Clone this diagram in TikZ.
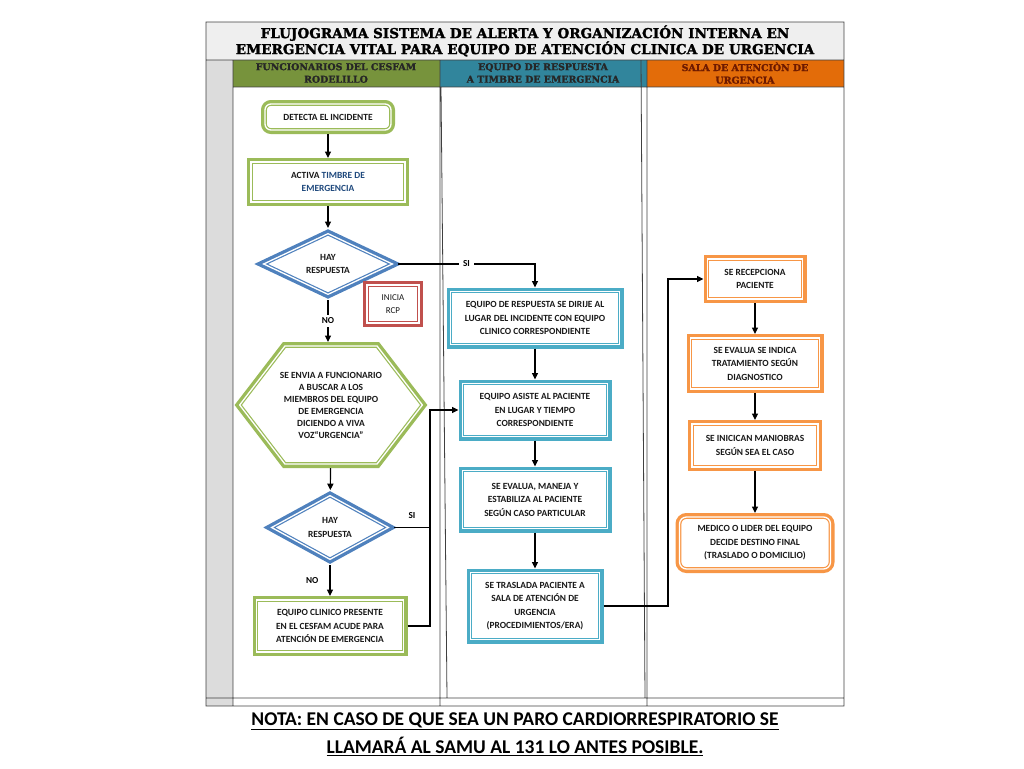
\documentclass[tikz,border=0pt]{standalone}
\usepackage{fontspec}
\setmainfont{Carlito}
\newfontfamily\slabfont[BoldFeatures={FakeBold=1.6}]{DejaVu Serif}
\usetikzlibrary{arrows.meta,calc,positioning,shapes.geometric,shapes.symbols}
\definecolor{LeafGreen}{HTML}{9BBB59}
\definecolor{SteelBlue}{HTML}{4F81BD}
\definecolor{BrickRed}{HTML}{C0504D}
\definecolor{CyanBox}{HTML}{4BACC6}
\definecolor{Tangerine}{HTML}{F79646}
\definecolor{HeadGreen}{HTML}{77933C}
\definecolor{HeadBlue}{HTML}{31859C}
\definecolor{HeadOrange}{HTML}{E36C09}
\definecolor{StripGrey}{HTML}{DCDCDC}
\definecolor{TitleGrey}{HTML}{EFEFEF}
\definecolor{BellBlue}{HTML}{1F497D}
\definecolor{HeadRed}{HTML}{6E1A00}
\begin{document}
\begin{tikzpicture}[x=1pt,y=-1pt,
    frame/.style={fill=white,draw=#1,line width=1.2pt,double=white,double distance=1.3pt,
                  preaction={draw=#1,line width=8pt},outer sep=4pt,align=center,
                  text=black!90,font=\bfseries\fontsize{9.4}{13.5}\selectfont},
    stepbox/.style={frame=#1,rectangle,inner sep=1pt},
    ask/.style={frame=SteelBlue,diamond,inner sep=0pt,font=\bfseries\fontsize{9.4}{13.5}\selectfont},
    lbl/.style={font=\bfseries\fontsize{9.2}{10}\selectfont,inner sep=1pt},
    head/.style={font=\slabfont\bfseries\fontsize{9.4}{12.5}\selectfont,align=center},
    arr/.style={-{Triangle[length=6.5pt,width=6pt]},line width=1.2pt}]
  \useasboundingbox (0,0) rectangle (1024,768);
  % table
  \fill[TitleGrey] (206,22) rectangle (844,60);
  \fill[StripGrey] (206,60) rectangle (233,706);
  \fill[HeadGreen] (233,60) rectangle (440,87);
  \fill[HeadBlue] (440,60) rectangle (647,87);
  \fill[HeadOrange] (647,60) rectangle (844,87);
  \draw[line width=0.8pt,black!75] (206,22) rectangle (844,706)
    (206,60) -- (844,60) (233,87) -- (844,87) (206,698) -- (844,698)
    (233,60) -- (233,706) (440,60) -- (440,706) (647,60) -- (647,706)
    (441,87) -- (447,698) (641,60) -- (645,698);
  \node[font=\slabfont\bfseries\fontsize{13.6}{16}\selectfont,align=center] (title) at (525,41)
    {FLUJOGRAMA SISTEMA DE ALERTA Y ORGANIZACIÓN INTERNA EN\\
     EMERGENCIA VITAL PARA EQUIPO DE ATENCIÓN CLINICA DE URGENCIA};
  \node[head,text=black!85] (lane1) at (336,73) {FUNCIONARIOS DEL CESFAM\\RODELILLO};
  \node[head,text=black!85] (lane2) at (543,73) {EQUIPO DE RESPUESTA\\A TIMBRE DE EMERGENCIA};
  \node[head,text=HeadRed] (lane3) at (745,73) {SALA DE ATENCIÒN DE\\URGENCIA};
  % funcionarios
  \node[stepbox=LeafGreen,rounded corners=6pt,minimum width=126pt,minimum height=26pt] (detect) at (328,117)
    {DETECTA EL INCIDENTE};
  \node[stepbox=LeafGreen,minimum width=154pt,minimum height=40pt,below=24pt of detect] (bell)
    {ACTIVA \textcolor{BellBlue}{TIMBRE DE}\\\textcolor{BellBlue}{EMERGENCIA}};
  \node[ask,minimum width=132pt,minimum height=64pt,below=22pt of bell] (ask1) {HAY\\RESPUESTA};
  \node[stepbox=BrickRed,minimum width=52pt,minimum height=38pt,
        font=\fontsize{9}{13.5}\selectfont] (rcp) at (393,304) {INICIA\\RCP};
  \node[frame=LeafGreen,signal,signal to=west and east,signal pointer angle=105,
        inner xsep=-5pt,inner ysep=1pt,font=\bfseries\fontsize{9.4}{12}\selectfont,
        minimum width=176pt,minimum height=118pt,below=42pt of ask1,xshift=3pt] (send)
    {SE ENVIA A FUNCIONARIO\\A BUSCAR A LOS\\MIEMBROS DEL EQUIPO\\DE EMERGENCIA\\DICIENDO A VIVA\\VOZ“URGENCIA”};
  \node[ask,minimum width=120pt,minimum height=67pt,below=22pt of send,xshift=-1pt] (ask2) {HAY\\RESPUESTA};
  \node[stepbox=LeafGreen,minimum width=147pt,minimum height=52pt,below=31pt of ask2] (local)
    {EQUIPO CLINICO PRESENTE\\EN EL CESFAM ACUDE PARA\\ATENCIÓN DE EMERGENCIA};
  % equipo de respuesta
  \node[stepbox=CyanBox,minimum width=169pt,minimum height=53pt] (goes) at (535,318)
    {EQUIPO DE RESPUESTA SE DIRIJE AL\\LUGAR DEL INCIDENTE CON EQUIPO\\CLINICO CORRESPONDIENTE};
  \node[stepbox=CyanBox,minimum width=145pt,minimum height=53pt,below=31pt of goes] (assist)
    {EQUIPO ASISTE AL PACIENTE\\EN LUGAR Y TIEMPO\\CORRESPONDIENTE};
  \node[stepbox=CyanBox,minimum width=145pt,minimum height=58pt,below=26pt of assist] (stabil)
    {SE EVALUA, MANEJA Y\\ESTABILIZA AL PACIENTE\\SEGÚN CASO PARTICULAR};
  \node[stepbox=CyanBox,minimum width=129pt,minimum height=67pt,below=36pt of stabil] (move)
    {SE TRASLADA PACIENTE A\\SALA DE ATENCIÓN DE\\URGENCIA\\(PROCEDIMIENTOS/ERA)};
  % sala de atencion
  \node[stepbox=Tangerine,minimum width=95pt,minimum height=40pt] (recep) at (755,279)
    {SE RECEPCIONA\\PACIENTE};
  \node[stepbox=Tangerine,minimum width=129pt,minimum height=51pt,below=31pt of recep] (treat)
    {SE EVALUA SE INDICA\\TRATAMIENTO SEGÚN\\DIAGNOSTICO};
  \node[stepbox=Tangerine,minimum width=126pt,minimum height=43pt,below=27pt of treat] (manv)
    {SE INICICAN MANIOBRAS\\SEGÚN SEA EL CASO};
  \node[stepbox=Tangerine,rounded corners=7pt,minimum width=151pt,minimum height=52pt,below=42pt of manv] (decide)
    {MEDICO O LIDER DEL EQUIPO\\DECIDE DESTINO FINAL\\(TRASLADO O DOMICILIO)};
  \coordinate (bus1) at (430,0);
  \coordinate (bus2) at (668,0);
  % connectors
  \draw[arr] (detect) -- (bell);
  \draw[arr] (bell) -- (ask1);
  \draw[arr] (ask1) -- node[lbl,fill=white,inner sep=3pt] {NO} (ask1 |- send.north);
  \draw[arr] (ask1.east) -| node[lbl,pos=0.25,fill=white,inner sep=4pt] {SI} (goes.north);
  \draw[arr] (send) -- (ask2);
  \draw[arr] (ask2) -- node[lbl,left=10pt] {NO} (ask2 |- local.north);
  \draw[arr] (ask2.east) -- node[lbl,above=7pt] {SI} (ask2.east -| bus1) |- (assist.west);
  \draw[line width=1.2pt] (local.east) -| (ask2.east -| bus1);
  \draw[arr] (goes) -- (assist);
  \draw[arr] (assist) -- (stabil);
  \draw[arr] (stabil) -- (move);
  \draw[arr] (move.east) -- (move.east -| bus2) |- (recep.west);
  \draw[arr] (recep) -- (treat);
  \draw[arr] (treat) -- (manv);
  \draw[arr] (manv) -- (decide);
  % nota
  \node[font=\bfseries\fontsize{19.5}{28}\selectfont,align=center] (note) at (515,734)
    {\underline{NOTA: EN CASO DE QUE SEA UN PARO CARDIORRESPIRATORIO SE}\\
     \underline{LLAMARÁ AL SAMU AL 131 LO ANTES POSIBLE.}};
\end{tikzpicture}
\end{document}
